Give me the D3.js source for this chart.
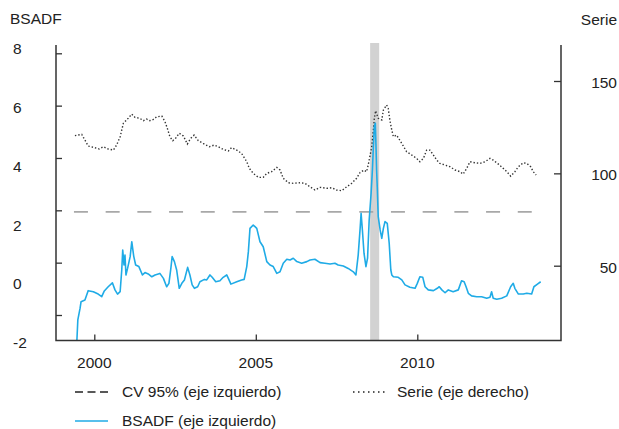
<!DOCTYPE html>
<html>
<head>
<meta charset="utf-8">
<script src="https://cdn.jsdelivr.net/npm/d3@7.9.0/dist/d3.min.js"></script>
<style>
  body { margin: 0; background: #fff; }
  text { font-family: "Liberation Sans", Arial, sans-serif; fill: #222; }
</style>
</head>
<body>
<svg id="chart" width="619" height="429"></svg>
<script>
// ====== DATA ======
const serieYears = [
  1999.40, 1999.61, 1999.71, 1999.81, 1999.97, 2000.15, 2000.28, 2000.43, 2000.59, 2000.69,
  2000.80, 2000.90, 2001.05, 2001.16, 2001.26, 2001.41, 2001.52, 2001.62, 2001.72, 2001.83,
  2001.93, 2002.09, 2002.19, 2002.26, 2002.34, 2002.43, 2002.53, 2002.63, 2002.76, 2002.88,
  2002.98, 2003.09, 2003.22, 2003.37, 2003.56, 2003.71, 2003.84, 2003.99, 2004.15, 2004.25,
  2004.41, 2004.56, 2004.72, 2004.80, 2004.92, 2005.08, 2005.23, 2005.34, 2005.49, 2005.65,
  2005.75, 2005.85, 2006.01, 2006.16, 2006.37, 2006.52, 2006.68, 2006.83, 2006.99, 2007.20,
  2007.35, 2007.50, 2007.66, 2007.81, 2007.97, 2008.12, 2008.23, 2008.35, 2008.43, 2008.48,
  2008.59, 2008.64, 2008.67, 2008.71, 2008.79, 2008.90, 2008.95, 2009.05, 2009.10, 2009.15,
  2009.21, 2009.26, 2009.36, 2009.52, 2009.67, 2009.83, 2009.98, 2010.08, 2010.19, 2010.29,
  2010.39, 2010.50, 2010.60, 2010.70, 2010.86, 2011.01, 2011.17, 2011.32, 2011.42, 2011.53,
  2011.63, 2011.79, 2011.94, 2012.10, 2012.25, 2012.35, 2012.51, 2012.66, 2012.77, 2012.89,
  2013.02, 2013.13, 2013.28, 2013.39, 2013.51, 2013.59, 2013.68
];
const serieValues = [
  120.4, 121.1, 118.0, 114.8, 114.1, 113.2, 114.4, 113.2, 112.6, 115.3,
  119.8, 127.1, 129.8, 132.1, 130.3, 129.8, 128.5, 129.4, 128.5, 129.2,
  130.6, 131.0, 127.9, 124.4, 119.8, 117.7, 119.3, 121.7, 120.2, 115.9,
  118.9, 120.7, 117.7, 116.2, 114.4, 115.3, 114.4, 113.0, 112.1, 113.9,
  112.6, 110.8, 106.3, 102.7, 100.0, 97.8, 97.8, 100.0, 100.9, 103.2,
  101.8, 97.3, 94.9, 94.6, 94.9, 94.6, 92.7, 91.0, 92.4, 91.9,
  92.2, 91.0, 90.6, 92.7, 94.6, 97.3, 100.5, 101.8, 100.9, 104.5,
  114.4, 123.4, 129.8, 133.9, 129.8, 128.9, 134.3, 137.0, 135.2, 128.9,
  123.4, 119.8, 120.7, 116.2, 111.7, 109.9, 108.1, 106.3, 108.1, 112.6,
  112.6, 109.9, 107.2, 105.4, 104.5, 103.6, 101.8, 100.9, 99.6, 102.7,
  106.3, 105.7, 105.4, 106.3, 108.1, 107.2, 105.0, 102.7, 100.9, 98.5,
  100.9, 103.6, 105.7, 105.4, 103.6, 100.9, 99.1
];

const bsadfYears = [
  1999.46, 1999.49, 1999.56, 1999.59, 1999.71, 1999.81, 1999.97, 2000.12, 2000.23, 2000.31,
  2000.43, 2000.56, 2000.64, 2000.72, 2000.80, 2000.85, 2000.88, 2000.92, 2000.95, 2000.98,
  2001.03, 2001.11, 2001.16, 2001.22, 2001.28, 2001.38, 2001.49, 2001.57, 2001.67, 2001.78,
  2001.88, 2002.03, 2002.14, 2002.24, 2002.31, 2002.37, 2002.41, 2002.48, 2002.55, 2002.63,
  2002.71, 2002.79, 2002.89, 2002.96, 2003.03, 2003.10, 2003.20, 2003.27, 2003.41, 2003.48,
  2003.58, 2003.65, 2003.76, 2003.89, 2003.99, 2004.10, 2004.15, 2004.23, 2004.41, 2004.56,
  2004.64, 2004.72, 2004.77, 2004.82, 2004.92, 2005.03, 2005.13, 2005.23, 2005.34, 2005.44,
  2005.54, 2005.65, 2005.75, 2005.85, 2005.96, 2006.06, 2006.16, 2006.27, 2006.42, 2006.58,
  2006.68, 2006.83, 2006.99, 2007.14, 2007.30, 2007.45, 2007.55, 2007.71, 2007.86, 2008.02,
  2008.10, 2008.17, 2008.23, 2008.26, 2008.30, 2008.35, 2008.41, 2008.46, 2008.51, 2008.57,
  2008.61, 2008.64, 2008.67, 2008.70, 2008.72, 2008.74, 2008.76, 2008.79, 2008.85, 2008.90,
  2008.95, 2009.00, 2009.07, 2009.13, 2009.18, 2009.21, 2009.26, 2009.41, 2009.52, 2009.62,
  2009.77, 2009.93, 2010.00, 2010.08, 2010.17, 2010.24, 2010.34, 2010.50, 2010.62, 2010.68,
  2010.76, 2010.86, 2010.96, 2011.11, 2011.27, 2011.37, 2011.45, 2011.51, 2011.58, 2011.68,
  2011.84, 2011.99, 2012.15, 2012.25, 2012.30, 2012.35, 2012.46, 2012.61, 2012.77, 2012.89,
  2012.97, 2013.02, 2013.13, 2013.28, 2013.39, 2013.54, 2013.61, 2013.72, 2013.82
];
const bsadfValues = [
  -3.0, -2.19, -1.74, -1.49, -1.43, -1.07, -1.11, -1.20, -1.30, -1.08,
  -0.92, -0.77, -1.04, -1.20, -1.11, -0.28, 0.48, -0.09, 0.29, -0.47,
  -0.22, 0.23, 0.80, 0.25, -0.09, -0.15, -0.47, -0.38, -0.43, -0.54,
  -0.47, -0.41, -0.60, -0.92, -0.79, -0.22, 0.23, 0.04, -0.28, -0.98,
  -0.79, -0.66, -0.18, -0.47, -0.85, -0.98, -0.92, -0.73, -0.64, -0.66,
  -0.47, -0.56, -0.73, -0.69, -0.56, -0.47, -0.60, -0.82, -0.73, -0.66,
  -0.64, -0.15, 0.42, 1.31, 1.44, 1.31, 0.80, 0.61, 0.04, -0.09,
  -0.15, -0.41, -0.35, -0.02, 0.13, 0.10, 0.17, 0.04, -0.02, 0.04,
  0.10, 0.13, 0.00, -0.02, -0.05, -0.02, -0.09, -0.13, -0.22, -0.35,
  -0.47, 0.29, 1.31, 1.89, 1.25, 0.36, -0.15, 0.17, 1.63, 2.65,
  3.54, 4.43, 5.20, 5.33, 4.50, 3.54, 2.90, 1.76, 1.25, 0.93,
  1.31, 1.57, 1.50, 0.74, -0.28, -0.47, -0.54, -0.56, -0.66, -0.85,
  -0.94, -0.98, -0.79, -0.54, -0.56, -0.92, -1.04, -1.07, -0.98, -0.92,
  -1.04, -1.15, -1.04, -1.11, -1.04, -0.69, -0.73, -0.92, -1.17, -1.27,
  -1.30, -1.30, -1.36, -1.32, -1.11, -1.36, -1.40, -1.36, -1.27, -0.92,
  -0.79, -0.98, -1.20, -1.20, -1.17, -1.20, -0.92, -0.82, -0.73
];

const cvYears = [1999.37, 2013.83];
const cvValue = 1.94;
const crisisBand = [2008.54, 2008.82];

const leftTicks = [-2, 0, 2, 4, 6, 8];
const rightTicks = [50, 100, 150];
const yearTicks = [2000, 2005, 2010];

const legendLabels = ["CV 95% (eje izquierdo)", "Serie (eje derecho)", "BSADF (eje izquierdo)"];

// ====== SCALES ======
const plot = { left: 56, right: 561, top: 45, bottom: 340.5 };
const svg = d3.select("#chart");

const x = d3.scaleLinear().domain([2000, 2010]).range([94.3, 417.3]);
const yLeft = d3.scaleLinear().domain([-2, 8]).range([315, 53.3]);
const yLeftLabel = d3.scaleLinear().domain([-2, 8]).range([342.5, 49]);
const yRight = d3.scaleLinear().domain([50, 150]).range([265.7, 81]);

const blue = "#1fabe6";

svg.append("rect").attr("width", 619).attr("height", 429).attr("fill", "#fff");

svg.append("clipPath").attr("id", "clip")
  .append("rect")
  .attr("x", plot.left).attr("y", plot.top)
  .attr("width", plot.right - plot.left).attr("height", plot.bottom - plot.top);

// crisis band
svg.append("rect")
  .attr("x", x(crisisBand[0]))
  .attr("y", 43)
  .attr("width", x(crisisBand[1]) - x(crisisBand[0]))
  .attr("height", plot.bottom - 43)
  .attr("fill", "#d2d2d2");

const g = svg.append("g").attr("clip-path", "url(#clip)");

// CV line
g.append("line")
  .attr("x1", x(cvYears[0])).attr("x2", x(cvYears[1]))
  .attr("y1", yLeft(cvValue)).attr("y2", yLeft(cvValue))
  .attr("stroke", "#a8a8a8").attr("stroke-width", 1.6)
  .attr("stroke-dasharray", "14,17.7");

// Serie (right axis)
const serie = serieYears.map((t, i) => [t, serieValues[i]]);
g.append("path")
  .attr("d", d3.line().x(d => x(d[0])).y(d => yRight(d[1]))(serie))
  .attr("fill", "none").attr("stroke", "#333").attr("stroke-width", 1.4)
  .attr("stroke-dasharray", "1.4,2");

// BSADF (left axis)
const bsadf = bsadfYears.map((t, i) => [t, bsadfValues[i]]);
g.append("path")
  .attr("d", d3.line().x(d => x(d[0])).y(d => yLeft(d[1]))(bsadf))
  .attr("fill", "none").attr("stroke", blue).attr("stroke-width", 1.6)
  .attr("stroke-linejoin", "round");

// ====== AXES ======
const axisColor = "#333";

const leftAxis = svg.append("g")
  .attr("transform", `translate(${plot.left},0)`)
  .call(d3.axisRight(yLeft).tickValues(leftTicks).tickSize(6).tickSizeOuter(0).tickFormat(""));
const rightAxis = svg.append("g")
  .attr("transform", `translate(${plot.right},0)`)
  .call(d3.axisLeft(yRight).tickValues(rightTicks).tickSize(7).tickSizeOuter(0).tickFormat(""));
const bottomAxis = svg.append("g")
  .attr("transform", `translate(0,${plot.bottom})`)
  .call(d3.axisTop(x).tickValues(yearTicks).tickSize(6).tickSizeOuter(0).tickFormat(""));

[leftAxis, rightAxis, bottomAxis].forEach(a => {
  a.select(".domain").remove();
  a.selectAll(".tick line").attr("stroke", axisColor).attr("stroke-width", 1.3);
});

// frame lines
svg.append("path")
  .attr("d", `M${plot.left},${plot.top}V${plot.bottom}H${plot.right}V${plot.top}`)
  .attr("fill", "none").attr("stroke", axisColor).attr("stroke-width", 1.5);

// tick labels
svg.selectAll(".lbl-left").data(leftTicks).join("text")
  .attr("x", 13).attr("y", d => yLeftLabel(d)).attr("dy", "0.35em")
  .attr("font-size", 15.5).text(d => d);

svg.selectAll(".lbl-right").data(rightTicks).join("text")
  .attr("x", 617).attr("y", d => yRight(d) + 1.5).attr("dy", "0.35em")
  .attr("text-anchor", "end").attr("font-size", 15.5).text(d => d);

svg.selectAll(".lbl-year").data(yearTicks).join("text")
  .attr("x", d => x(d)).attr("y", 363).attr("dy", "0.35em")
  .attr("text-anchor", "middle").attr("font-size", 15.5).text(d => d);

svg.append("text").attr("x", 10).attr("y", 19).attr("dy", "0.35em")
  .attr("font-size", 15.5).text("BSADF");
svg.append("text").attr("x", 617).attr("y", 20).attr("dy", "0.35em")
  .attr("text-anchor", "end").attr("font-size", 15.5).text("Serie");

// ====== LEGEND ======
const legend = svg.append("g");
// CV
legend.append("line").attr("x1", 75).attr("x2", 108).attr("y1", 392).attr("y2", 392)
  .attr("stroke", "#222").attr("stroke-width", 1.3).attr("stroke-dasharray", "8,4.5");
legend.append("text").attr("x", 122).attr("y", 392).attr("dy", "0.35em")
  .attr("font-size", 15.5).text(legendLabels[0]);
// Serie
legend.append("line").attr("x1", 353).attr("x2", 388).attr("y1", 392).attr("y2", 392)
  .attr("stroke", "#222").attr("stroke-width", 1.3).attr("stroke-dasharray", "1.5,3.5");
legend.append("text").attr("x", 397).attr("y", 392).attr("dy", "0.35em")
  .attr("font-size", 15.5).text(legendLabels[1]);
// BSADF
legend.append("line").attr("x1", 75).attr("x2", 108).attr("y1", 421).attr("y2", 421)
  .attr("stroke", blue).attr("stroke-width", 1.6);
legend.append("text").attr("x", 122).attr("y", 421).attr("dy", "0.35em")
  .attr("font-size", 15.5).text(legendLabels[2]);
</script>
</body>
</html>
